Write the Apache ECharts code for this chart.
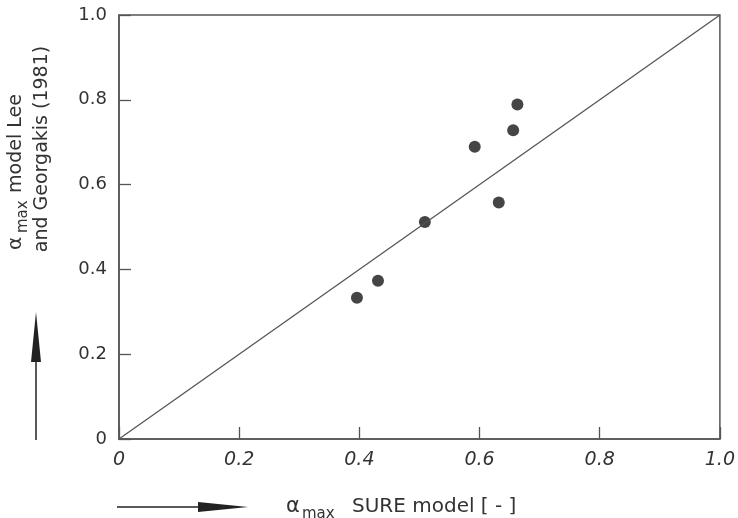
<!DOCTYPE html>
<html>
<head>
<meta charset="utf-8">
<script src="https://cdn.jsdelivr.net/npm/echarts@6/dist/echarts.min.js"></script>
<style>html,body{margin:0;padding:0;background:#fff}#c{width:738px;height:518px}</style>
</head>
<body>
<div id="c"></div>
<script>
// SURE model alpha_max (x) vs Lee & Georgakis model alpha_max (y)
var sureModel = [0.396, 0.431, 0.509, 0.592, 0.632, 0.656, 0.663];
var leeGeorgakis = [0.333, 0.373, 0.512, 0.689, 0.558, 0.728, 0.789];
var diagonalX = [0, 1];
var diagonalY = [0, 1];
var xTicks = ['0', '0.2', '0.4', '0.6', '0.8', '1.0'];
var yTicks = ['0', '0.2', '0.4', '0.6', '0.8', '1.0'];

var points = sureModel.map(function (v, i) { return [v, leeGeorgakis[i]]; });
var diag = diagonalX.map(function (v, i) { return [v, diagonalY[i]]; });

var ink = '#333';
var font = 'DejaVu Sans';
var R = Math.PI / 2;
function txt(x, y, s, size, align, rot) {
  return {
    type: 'text', x: x, y: y, rotation: rot || 0,
    style: { text: s, fill: ink, font: size + 'px "' + font + '"', textAlign: align, textVerticalAlign: 'middle' }
  };
}
var chart = echarts.init(document.getElementById('c'));
chart.setOption({
  backgroundColor: '#fff',
  animation: false,
  grid: { left: 119, right: 14, top: 15, bottom: 79, show: true, borderColor: '#555', borderWidth: 1.5, backgroundColor: 'transparent' },
  xAxis: {
    type: 'value', min: 0, max: 1, interval: 0.2,
    axisLine: { show: true, lineStyle: { color: '#555', width: 1.5 } },
    axisTick: { show: true, inside: true, length: 12, lineStyle: { color: '#555', width: 1.3 } },
    splitLine: { show: false },
    axisLabel: {
      margin: 12, color: ink, fontFamily: font, fontSize: 19, fontStyle: 'italic',
      formatter: function (v) { return xTicks[Math.round(v * 5)]; }
    }
  },
  yAxis: {
    type: 'value', min: 0, max: 1, interval: 0.2,
    axisLine: { show: true, lineStyle: { color: '#555', width: 1.5 } },
    axisTick: { show: true, inside: true, length: 12, lineStyle: { color: '#555', width: 1.3 } },
    splitLine: { show: false },
    axisLabel: {
      margin: 12, color: ink, fontFamily: font, fontSize: 18,
      formatter: function (v) { return yTicks[Math.round(v * 5)]; }
    }
  },
  series: [
    {
      type: 'line', data: diag, symbol: 'none',
      lineStyle: { color: '#555', width: 1.3 }, silent: true
    },
    {
      type: 'scatter', data: points, symbol: 'circle', symbolSize: 12,
      itemStyle: { color: '#161616' }
    }
  ],
  graphic: [
    // y-axis title line 1 (rotated, reads bottom to top)
    txt(16, 250, 'α', 20, 'left', R),
    txt(23, 233, 'max', 15, 'left', R),
    txt(16, 193, 'model Lee', 19, 'left', R),
    // y-axis title line 2
    txt(42, 149, 'and Georgakis (1981)', 19, 'center', R),
    // vertical arrow
    { type: 'line', shape: { x1: 36, y1: 440, x2: 36, y2: 350 }, style: { stroke: '#222', lineWidth: 1.5 } },
    { type: 'polygon', shape: { points: [[36, 312], [31, 362], [41, 362]] }, style: { fill: '#222' } },
    // horizontal arrow
    { type: 'line', shape: { x1: 117, y1: 507, x2: 210, y2: 507 }, style: { stroke: '#222', lineWidth: 1.5 } },
    { type: 'polygon', shape: { points: [[198, 502], [248, 507], [198, 512]] }, style: { fill: '#222' } },
    // x-axis title
    txt(286, 507, 'α', 21, 'left'),
    txt(302, 514, 'max', 15, 'left'),
    txt(352, 507, 'SURE model [ - ]', 20, 'left')
  ]
});
</script>
</body>
</html>
